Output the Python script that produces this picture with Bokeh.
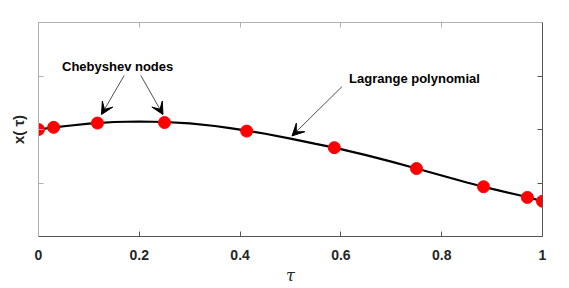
from bokeh.plotting import figure
from bokeh.models import LinearAxis, FixedTicker, Range1d, Label, Arrow, VeeHead
from bokeh.embed import file_html
from bokeh.resources import INLINE

# Chebyshev nodes (tau) and node values
node_tau = [0.0, 0.030, 0.117, 0.25, 0.413, 0.587, 0.75, 0.883, 0.970, 1.0]
node_x = [2.00, 2.04, 2.12, 2.13, 1.97, 1.66, 1.27, 0.93, 0.73, 0.66]

# Lagrange polynomial curve
curve_tau = [0.0, 0.03, 0.06, 0.10, 0.15, 0.20, 0.25, 0.30, 0.35, 0.38, 0.413, 0.45, 0.50,
             0.55, 0.587, 0.65, 0.70, 0.75, 0.80, 0.85, 0.883, 0.90, 0.95, 0.97, 1.0]
curve_x = [2.00, 2.04, 2.07, 2.11, 2.14, 2.15, 2.14, 2.115, 2.065, 2.025, 1.98, 1.92, 1.83,
           1.73, 1.66, 1.52, 1.40, 1.27, 1.14, 1.01, 0.93, 0.89, 0.78, 0.735, 0.66]

x_ticks = [0, 0.2, 0.4, 0.6, 0.8, 1]
x_tick_labels = ["0", "0.2", "0.4", "0.6", "0.8", "1"]
y_ticks = [1, 2, 3]

# annotation texts and anchor points (data coords)
ann_texts = ["Chebyshev nodes", "Lagrange polynomial"]
ann_pos = [(0.157, 3.17), (0.746, 2.95)]
arrows = [((0.170, 3.01), (0.125, 2.28)),
          ((0.203, 3.01), (0.247, 2.28)),
          ((0.602, 2.80), (0.503, 1.88))]

FONT = "Liberation Sans"

p = figure(width=560, height=287, output_backend="svg", toolbar_location=None,
           x_range=Range1d(0, 1), y_range=Range1d(0, 4),
           min_border_left=38, min_border_right=18, min_border_top=22, min_border_bottom=40,
           x_axis_location=None, y_axis_location=None)
p.grid.visible = False
p.background_fill_color = "white"
p.border_fill_color = "white"
p.outline_line_color = None

def mk_axis(ticks, labels=None, color="#777777"):
    ax = LinearAxis(ticker=FixedTicker(ticks=ticks))
    ax.axis_line_color = color
    ax.major_tick_line_color = color
    ax.major_tick_in = 5
    ax.major_tick_out = 0
    ax.minor_tick_line_color = None
    ax.major_label_text_font = FONT
    ax.major_label_text_font_style = "bold"
    ax.major_label_text_color = "#262626"
    ax.major_label_text_font_size = "14px"
    if labels is None:
        ax.major_label_overrides = {t: "" for t in ticks}
        ax.major_label_standoff = 0
    else:
        ax.major_label_overrides = {t: l for t, l in zip(ticks, labels)}
        ax.major_label_standoff = 13
    return ax

bottom = mk_axis(x_ticks, x_tick_labels, color="#555555")
bottom.axis_label = "τ"
bottom.axis_label_text_font = "DejaVu Serif"
bottom.axis_label_text_font_style = "italic"
bottom.axis_label_text_font_size = "16px"
bottom.axis_label_text_color = "#262626"
bottom.axis_label_standoff = 3
p.add_layout(bottom, "below")

left = mk_axis(y_ticks, None, color="#b0b0b0")
left.axis_label = "x( τ)"
left.axis_label_text_font = FONT
left.axis_label_text_font_style = "bold"
left.axis_label_text_font_size = "15px"
left.axis_label_text_color = "#262626"
left.axis_label_standoff = 12
p.add_layout(left, "left")

top = mk_axis(x_ticks, None, color="#b0b0b0")
p.add_layout(top, "above")
right = mk_axis(y_ticks, None, color="#555555")
p.add_layout(right, "right")

p.line(curve_tau, curve_x, line_color="black", line_width=2.2)
p.scatter(node_tau, node_x, size=12, fill_color="red", line_color="red")

for t, (ax_, ay_) in zip(ann_texts, ann_pos):
    p.add_layout(Label(x=ax_, y=ay_, text=t, text_font=FONT, text_font_style="bold",
                       text_font_size="13px", text_align="center", text_baseline="middle",
                       text_color="black"))

for (x0, y0), (x1, y1) in arrows:
    p.add_layout(Arrow(x_start=x0, y_start=y0, x_end=x1, y_end=y1,
                       line_color="#222222", line_width=0.8,
                       end=VeeHead(size=12, fill_color="black", line_color="black", line_width=1)))

open("out.html", "w").write(file_html(p, INLINE))
